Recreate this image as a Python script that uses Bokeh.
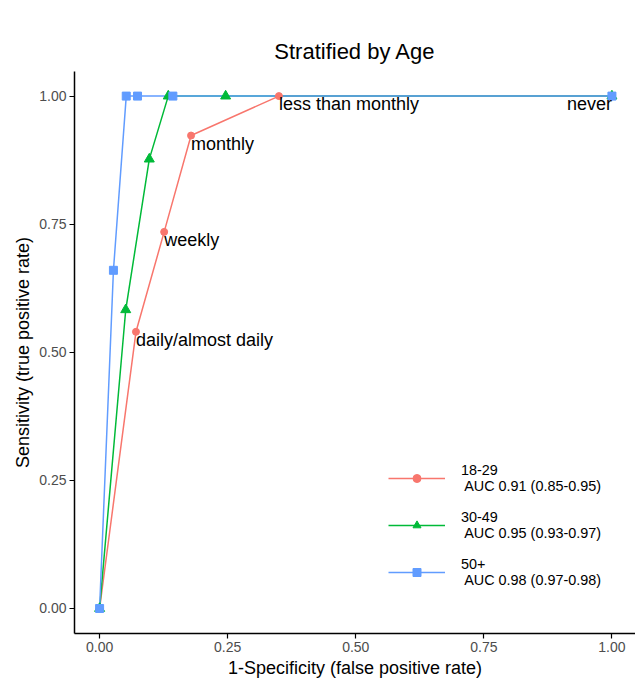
from bokeh.plotting import figure
from bokeh.models import ColumnDataSource, Legend, LegendItem, FixedTicker, Range1d
from bokeh.embed import file_html
from bokeh.resources import INLINE
from bokeh.core.properties import value

# ---- data ----
groups = ["18-29", "30-49", "50+"]
auc_text = ["AUC 0.91 (0.85-0.95)", "AUC 0.95 (0.93-0.97)", "AUC 0.98 (0.97-0.98)"]
colors = ["#F8766D", "#00BA38", "#619CFF"]
markers = ["circle", "triangle", "square"]
marker_sizes = [7, 10, 8]

fpr_18_29 = [0.0, 0.071, 0.126, 0.1785, 0.350, 1.0]
tpr_18_29 = [0.0, 0.540, 0.735, 0.923, 1.0, 1.0]
fpr_30_49 = [0.0, 0.051, 0.097, 0.134, 0.246, 1.0]
tpr_30_49 = [0.0, 0.583, 0.877, 1.0, 1.0, 1.0]
fpr_50 = [0.0, 0.027, 0.052, 0.074, 0.143, 1.0]
tpr_50 = [0.0, 0.660, 1.0, 1.0, 1.0, 1.0]

point_labels = ["", "daily/almost daily", "weekly", "monthly", "less than monthly", "never"]

tick_values = [0.0, 0.25, 0.5, 0.75, 1.0]
tick_labels = ["0.00", "0.25", "0.50", "0.75", "1.00"]

series_x = [fpr_18_29, fpr_30_49, fpr_50]
series_y = [tpr_18_29, tpr_30_49, tpr_50]

FONT = "Liberation Sans"

p = figure(width=635, height=681,
           x_range=Range1d(-0.049, 1.046), y_range=Range1d(-0.0488, 1.048),
           output_backend="svg", toolbar_location=None,
           min_border_left=74, min_border_right=0, min_border_top=71, min_border_bottom=48,
           title="Stratified by Age")
p.outline_line_color = None
p.xgrid.visible = False
p.ygrid.visible = False
p.background_fill_color = "white"
p.border_fill_color = "white"

p.title.align = "center"
p.title.text_font = FONT
p.title.text_font_size = "22px"
p.title.text_font_style = "normal"
p.title.text_color = "black"
p.title.standoff = 15

for ax, lab in ((p.xaxis[0], "1-Specificity (false positive rate)"),
                (p.yaxis[0], "Sensitivity (true positive rate)")):
    ax.axis_label = lab
    ax.ticker = FixedTicker(ticks=tick_values)
    ax.major_label_overrides = {v: t for v, t in zip(tick_values, tick_labels)}
    ax.axis_line_color = "black"
    ax.axis_line_width = 1.5
    ax.major_tick_line_color = "black"
    ax.major_tick_line_width = 1.2
    ax.major_tick_out = 5
    ax.major_tick_in = 0
    ax.minor_tick_line_color = None
    ax.major_label_text_font = FONT
    ax.major_label_text_font_size = "14px"
    ax.major_label_text_color = "#4D4D4D"
    ax.major_label_standoff = 3
    ax.axis_label_text_font = FONT
    ax.axis_label_text_font_size = "18px"
    ax.axis_label_text_font_style = "normal"
    ax.axis_label_text_color = "black"
    ax.axis_label_standoff = 3

line_rs = []
for xs, ys, c in zip(series_x, series_y, colors):
    line_rs.append(p.line(xs, ys, line_color=c, line_width=1.5))

pt_rs = []
for xs, ys, c, m, s in zip(series_x, series_y, colors, markers, marker_sizes):
    pt_rs.append(p.scatter(xs, ys, marker=m, size=s, fill_color=c, line_color=c))

aligns = ["left" if x < 0.5 else "right" for x in fpr_18_29]
lab_src = ColumnDataSource(dict(x=fpr_18_29, y=tpr_18_29, text=point_labels, align=aligns))
p.text(x="x", y="y", text="text", source=lab_src, text_align="align",
       text_baseline="top", y_offset=-2, text_font=value(FONT), text_font_size="18px",
       text_color="black")

items = [LegendItem(label=g + "\n " + a, renderers=[lr, pr])
         for g, a, lr, pr in zip(groups, auc_text, line_rs, pt_rs)]
legend = Legend(items=items, location=(314, 45), padding=0, margin=0,
                border_line_color=None, background_fill_color="white", background_fill_alpha=1.0,
                glyph_width=57, glyph_height=20, label_standoff=16, spacing=15,
                label_text_font=FONT, label_text_font_size="14.4px", label_text_color="black")
p.add_layout(legend)

open("out.html", "w").write(file_html(p, INLINE))
